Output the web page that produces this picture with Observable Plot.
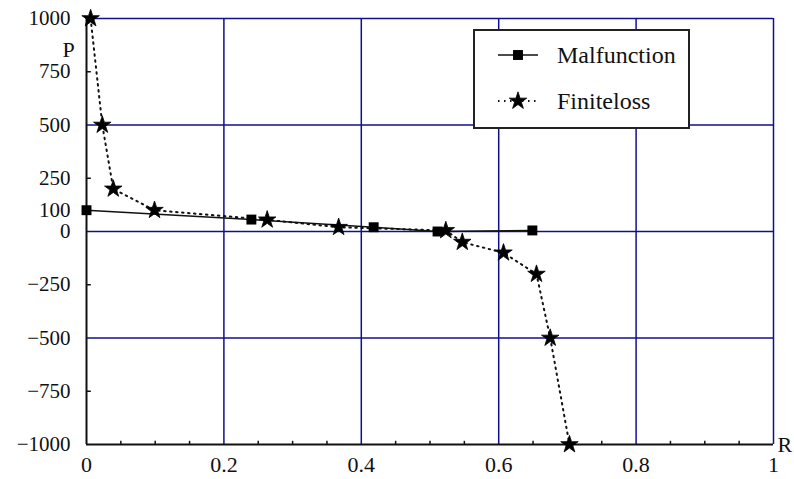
<!DOCTYPE html>
<html>
<head>
<meta charset="utf-8">
<script src="https://cdn.jsdelivr.net/npm/d3@7"></script>
<script src="https://cdn.jsdelivr.net/npm/@observablehq/plot@0.6"></script>
<style>
  html, body { margin: 0; padding: 0; background: #fff; }
  #wrap { position: relative; width: 794px; height: 479px; font-family: "Liberation Serif", serif; }
  #legend { position: absolute; left: 473px; top: 29px; width: 213px; height: 96px; border: 2px solid #222; background: #fff; box-sizing: content-box; }
  .lg-row { position: absolute; left: 0; height: 24px; display: flex; align-items: center; }
  .lg-row span { font-size: 24px; margin-left: 18px; color: #111; white-space: nowrap; }
</style>
</head>
<body>
<div id="wrap"></div>
<script>
// ---- data ----
const malfunctionR = [0, 0.24, 0.418, 0.511, 0.649];
const malfunctionP = [100, 56, 20, 0, 5];
const finitelossR = [0.006, 0.023, 0.039, 0.099, 0.263, 0.367, 0.523, 0.547, 0.607, 0.655, 0.675, 0.703];
const finitelossP = [1000, 500, 200, 100, 55, 20, 5, -50, -100, -200, -500, -1000];
const seriesNames = ["Malfunction", "Finiteloss"];
const xTicks = [0, 0.2, 0.4, 0.6, 0.8, 1];
const xMinorTicks = [0.05, 0.1, 0.15, 0.25, 0.3, 0.35, 0.45, 0.5, 0.55, 0.65, 0.7, 0.75, 0.85, 0.9, 0.95];
const yTicks = [-1000, -750, -500, -250, 0, 100, 250, 500, 750, 1000];
const yMinorTicks = [-750, -250, 250, 750];
const xGrid = [0.2, 0.4, 0.6, 0.8, 1];
const yGrid = [1000, 500, 0, -500];
const xLabel = "R";
const yLabel = "P";

const malfunction = malfunctionR.map((r, i) => ({r, p: malfunctionP[i]}));
const finiteloss = finitelossR.map((r, i) => ({r, p: finitelossP[i]}));

const navy = "#10108a";
const fmt = d => d < 0 ? "\u2212" + Math.abs(d) : String(d);

const chart = Plot.plot({
  width: 794,
  height: 479,
  marginLeft: 86,
  marginRight: 21,
  marginTop: 18,
  marginBottom: 35,
  style: {fontFamily: "Liberation Serif, serif", fontSize: "21px", color: "#111", background: "#fff"},
  x: {domain: [0, 1], label: null},
  y: {domain: [-1000, 1000], label: null},
  marks: [
    Plot.ruleX(xGrid, {stroke: navy, strokeWidth: 1.5}),
    Plot.ruleY(yGrid, {stroke: navy, strokeWidth: 1.5}),
    Plot.ruleX(xMinorTicks, {y1: -1000, y2: -985, stroke: "#111", strokeWidth: 1.5}),
    Plot.ruleY(yMinorTicks, {x1: 0, x2: 0.007, stroke: "#111", strokeWidth: 1.5}),
    Plot.ruleX([0], {stroke: "#111", strokeWidth: 2}),
    Plot.ruleY([-1000], {stroke: "#111", strokeWidth: 2}),
    Plot.axisX({ticks: xTicks, tickSize: 0, tickPadding: 12, tickFormat: d => String(d), fontSize: 22, label: null}),
    Plot.axisY({ticks: yTicks, tickSize: 0, tickPadding: 16, tickFormat: fmt, fontSize: 21, label: null}),
    Plot.line(malfunction, {x: "r", y: "p", stroke: "#111", strokeWidth: 1.5}),
    Plot.line(finiteloss, {x: "r", y: "p", stroke: "#111", strokeWidth: 2, strokeDasharray: "1.5,4.5"}),
    Plot.dot(malfunction, {x: "r", y: "p", symbol: "square", r: 5.6, fill: "#000", stroke: "none"}),
    Plot.dot(finiteloss, {x: "r", y: "p", symbol: "star", r: 5.5, fill: "#000", stroke: "#000", strokeWidth: 0.8}),
    Plot.text([yLabel], {text: d => d, frameAnchor: "top-left", dx: -24, dy: 23, fontSize: 22}),
    Plot.text([xLabel], {text: d => d, frameAnchor: "bottom-right", textAnchor: "start", dx: 4, dy: 7, fontSize: 22})
  ]
});

const wrap = document.getElementById("wrap");
wrap.appendChild(chart);

// legend
const legend = document.createElement("div");
legend.id = "legend";
const dashes = ["", "1.5,4.5"];
const syms = [d3.symbolSquare, d3.symbolStar];
const sizes = [Math.PI * 5.6 * 5.6, Math.PI * 5.5 * 5.5];
seriesNames.forEach((name, i) => {
  const row = document.createElement("div");
  row.className = "lg-row";
  row.style.top = (i === 0 ? 12 : 58) + "px";
  row.style.left = "22px";
  const svg = d3.create("svg").attr("width", 42).attr("height", 24);
  svg.append("line").attr("x1", 1).attr("x2", 41).attr("y1", 12).attr("y2", 12)
    .attr("stroke", "#111").attr("stroke-width", i === 0 ? 1.5 : 2)
    .attr("stroke-dasharray", dashes[i] || null);
  svg.append("path").attr("transform", "translate(21,12)")
    .attr("d", d3.symbol(syms[i], sizes[i])()).attr("fill", "#000")
    .attr("stroke", i === 1 ? "#000" : null).attr("stroke-width", i === 1 ? 0.8 : null);
  row.appendChild(svg.node());
  const t = document.createElement("span");
  t.textContent = name;
  row.appendChild(t);
  legend.appendChild(row);
});
wrap.appendChild(legend);
</script>
</body>
</html>
